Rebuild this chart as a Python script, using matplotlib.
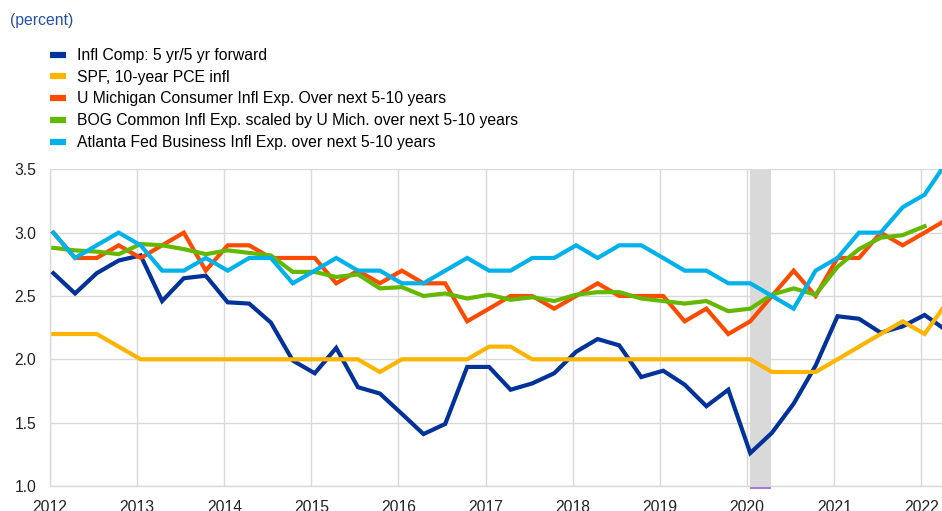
import numpy as np
import pandas as pd
import matplotlib
matplotlib.use("Agg")
import matplotlib.pyplot as plt
import matplotlib.dates as mdates

# quarterly observations, 2012Q1 - 2022Q2
dates = pd.date_range("2012-01-01", periods=42, freq="QS") + pd.Timedelta(days=14)

infl_comp = [2.68, 2.52, 2.68, 2.78, 2.82, 2.46, 2.64, 2.66, 2.45, 2.44,
             2.29, 1.99, 1.89, 2.09, 1.78, 1.73, 1.57, 1.41, 1.49, 1.94,
             1.94, 1.76, 1.81, 1.89, 2.06, 2.16, 2.11, 1.86, 1.91, 1.80,
             1.63, 1.76, 1.26, 1.42, 1.65, 1.95, 2.34, 2.32, 2.21, 2.26,
             2.35, 2.23]
spf = [2.2, 2.2, 2.2, 2.1, 2.0, 2.0, 2.0, 2.0, 2.0, 2.0,
       2.0, 2.0, 2.0, 2.0, 2.0, 1.9, 2.0, 2.0, 2.0, 2.0,
       2.1, 2.1, 2.0, 2.0, 2.0, 2.0, 2.0, 2.0, 2.0, 2.0,
       2.0, 2.0, 2.0, 1.9, 1.9, 1.9, 2.0, 2.1, 2.2, 2.3,
       2.2, 2.44]
umich = [3.0, 2.8, 2.8, 2.9, 2.8, 2.9, 3.0, 2.7, 2.9, 2.9,
         2.8, 2.8, 2.8, 2.6, 2.7, 2.6, 2.7, 2.6, 2.6, 2.3,
         2.4, 2.5, 2.5, 2.4, 2.5, 2.6, 2.5, 2.5, 2.5, 2.3,
         2.4, 2.2, 2.3, 2.5, 2.7, 2.5, 2.8, 2.8, 3.0, 2.9,
         3.0, 3.1]
bog_cie = [2.88, 2.86, 2.85, 2.83, 2.91, 2.90, 2.87, 2.83, 2.86, 2.84,
           2.82, 2.69, 2.69, 2.65, 2.67, 2.56, 2.57, 2.50, 2.52, 2.48,
           2.51, 2.47, 2.49, 2.46, 2.51, 2.53, 2.53, 2.48, 2.46, 2.44,
           2.46, 2.38, 2.40, 2.51, 2.56, 2.51, 2.73, 2.87, 2.96, 2.98,
           3.05]
atlanta = [3.0, 2.8, 2.9, 3.0, 2.9, 2.7, 2.7, 2.8, 2.7, 2.8,
           2.8, 2.6, 2.7, 2.8, 2.7, 2.7, 2.6, 2.6, 2.7, 2.8,
           2.7, 2.7, 2.8, 2.8, 2.9, 2.8, 2.9, 2.9, 2.8, 2.7,
           2.7, 2.6, 2.6, 2.5, 2.4, 2.7, 2.8, 3.0, 3.0, 3.2,
           3.3, 3.55]

labels = ["Infl Comp: 5 yr/5 yr forward",
          "SPF, 10-year PCE infl",
          "U Michigan Consumer Infl Exp. Over next 5-10 years",
          "BOG Common Infl Exp. scaled by U Mich. over next 5-10 years",
          "Atlanta Fed Business Infl Exp. over next 5-10 years"]
colors = ["#003299", "#ffb400", "#ff4b00", "#65b800", "#00b1ea"]

rec_start = pd.Timestamp("2020-01-13")
rec_end = pd.Timestamp("2020-04-11")

yticks = [1.0, 1.5, 2.0, 2.5, 3.0, 3.5]

plt.rcParams["font.family"] = ["Liberation Sans", "DejaVu Sans"]
fs = 11.3

fig = plt.figure(figsize=(9.42, 5.11), dpi=100)
ax = fig.add_axes([0.0531, 0.0489, 0.9469, 0.6198])

series = [infl_comp, spf, umich, bog_cie, atlanta]
for vals, col, lab in zip(series, colors, labels):
    ax.plot(dates[:len(vals)], vals, color=col, lw=3.0, label=lab,
            solid_joinstyle="miter", zorder=3)

# recession band
ax.axvspan(rec_start, rec_end, color="#d9d9d9", lw=0, zorder=1.5)
ax.hlines(0.984, rec_start, rec_end, color="#a67bdc", lw=1.5,
          clip_on=False, zorder=4)

ax.set_ylim(1.0, 3.5)
ax.set_xlim(pd.Timestamp("2012-01-01"), pd.Timestamp("2022-03-29"))
ax.set_yticks(yticks)
ax.set_yticklabels([f"{v:.1f}" for v in yticks])
ax.xaxis.set_major_locator(mdates.YearLocator())
ax.xaxis.set_major_formatter(mdates.DateFormatter("%Y"))

ax.grid(True, color="#d9d9d9", lw=1.0, zorder=0.5)
ax.set_axisbelow(True)
for side in ["top", "right"]:
    ax.spines[side].set_visible(False)
for side in ["left", "bottom"]:
    ax.spines[side].set_color("#d9d9d9")
    ax.spines[side].set_linewidth(1.0)
ax.tick_params(axis="both", length=0, labelsize=fs, colors="#222222")
ax.tick_params(axis="y", pad=10)
ax.tick_params(axis="x", pad=10)

fig.text(10 / 942, 1 - 21 / 511, "(percent)", color="#2350a8",
         fontsize=fs, va="center", ha="left")

handles, labs = ax.get_legend_handles_labels()
leg = fig.legend(handles, labs, loc="upper left",
                 bbox_to_anchor=(50 / 942, 1 - 48 / 511),
                 frameon=False, fontsize=fs, handlelength=1.0,
                 handletextpad=0.7, labelspacing=0.43,
                 borderpad=0, borderaxespad=0)
for h in leg.legend_handles:
    h.set_linewidth(4.5)
    h.set_solid_capstyle("butt")

fig.savefig("out.png", dpi=100)
